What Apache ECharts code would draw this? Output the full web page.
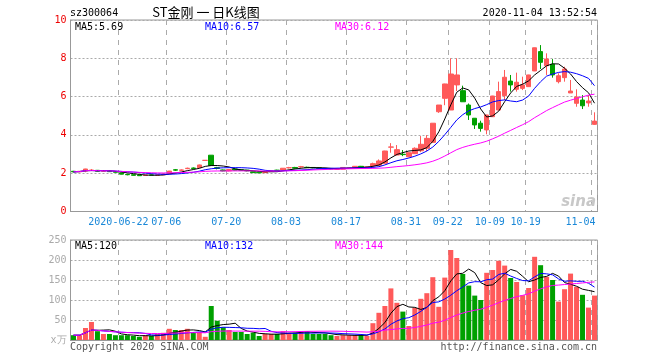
<!DOCTYPE html>
<html><head><meta charset="utf-8">
<script src="https://cdn.jsdelivr.net/npm/echarts@6/dist/echarts.min.js"></script>
<style>html,body{margin:0;padding:0;background:#fff}#c{width:660px;height:360px}</style>
</head><body><div id="c"></div>
<script>
const dates = ['2020-06-10','2020-06-11','2020-06-12','2020-06-15','2020-06-16','2020-06-17','2020-06-18','2020-06-19',
'2020-06-22','2020-06-23','2020-06-24','2020-06-29','2020-06-30','2020-07-01','2020-07-02','2020-07-03',
'2020-07-06','2020-07-07','2020-07-08','2020-07-09','2020-07-10','2020-07-13','2020-07-14','2020-07-15','2020-07-16','2020-07-17',
'2020-07-20','2020-07-21','2020-07-22','2020-07-23','2020-07-24','2020-07-27','2020-07-28','2020-07-29','2020-07-30','2020-07-31',
'2020-08-03','2020-08-04','2020-08-05','2020-08-06','2020-08-07','2020-08-10','2020-08-11','2020-08-12','2020-08-13','2020-08-14',
'2020-08-17','2020-08-18','2020-08-19','2020-08-20','2020-08-21','2020-08-24','2020-08-25','2020-08-26','2020-08-27','2020-08-28',
'2020-08-31','2020-09-01','2020-09-02','2020-09-03','2020-09-04','2020-09-07','2020-09-08',
'2020-09-22','2020-09-23','2020-09-24','2020-09-25','2020-09-28','2020-09-29','2020-09-30',
'2020-10-09','2020-10-12','2020-10-13','2020-10-14','2020-10-15','2020-10-16',
'2020-10-19','2020-10-20','2020-10-21','2020-10-22','2020-10-23','2020-10-26','2020-10-27','2020-10-28','2020-10-29','2020-10-30',
'2020-11-02','2020-11-04'];
const opens = [2.10,2.07,2.11,2.15,2.15,2.10,2.11,2.08,2.01,1.94,1.92,1.90,1.88,1.91,1.90,1.92,
1.99,2.18,2.15,2.24,2.27,2.29,2.67,2.94,2.29,2.17,
2.12,2.22,2.18,2.16,2.08,2.05,2.03,2.09,2.16,2.17,
2.28,2.30,2.33,2.31,2.30,2.28,2.25,2.24,2.20,2.21,
2.28,2.28,2.36,2.31,2.38,2.41,2.52,3.36,2.95,2.99,
2.86,3.02,3.17,3.30,3.61,5.21,5.91,
5.30,6.61,6.31,5.56,4.87,4.61,4.26,
4.95,5.30,6.05,6.81,6.38,6.43,
6.52,7.34,8.35,7.61,7.69,6.78,6.99,6.19,5.65,5.82,5.67,4.55];
const closes = [2.07,2.10,2.22,2.16,2.10,2.11,2.08,2.05,1.95,1.92,1.89,1.87,1.90,1.90,1.91,1.96,
2.11,2.16,2.17,2.26,2.25,2.43,2.67,2.40,2.25,2.12,
2.19,2.16,2.15,2.12,2.03,2.02,2.06,2.14,2.14,2.26,
2.29,2.26,2.34,2.29,2.28,2.25,2.23,2.22,2.22,2.30,
2.29,2.36,2.31,2.33,2.50,2.64,3.16,3.37,3.23,2.97,
3.07,3.30,3.51,3.82,4.61,5.56,6.66,
7.18,7.13,5.73,5.04,4.52,4.34,5.04,
6.03,6.26,7.01,6.61,6.75,6.61,
7.13,8.55,7.79,7.96,7.13,7.09,7.44,6.29,5.98,5.52,5.77,4.72];
const lows = [2.05,2.06,2.05,2.11,2.09,2.08,2.07,2.04,1.94,1.89,1.88,1.86,1.87,1.88,1.88,1.91,
1.98,2.12,2.13,2.21,2.22,2.27,2.67,2.38,2.20,2.10,
2.10,2.14,2.13,2.10,2.01,2.00,2.01,2.07,2.12,2.16,
2.25,2.24,2.29,2.27,2.26,2.23,2.21,2.20,2.19,2.20,
2.26,2.27,2.30,2.30,2.36,2.38,2.50,3.07,2.93,2.89,
2.84,3.00,3.10,3.15,3.60,5.15,5.55,
5.30,6.29,5.73,4.78,4.31,4.17,4.03,
4.94,5.29,5.82,6.26,6.26,6.34,
6.51,7.33,7.44,7.13,6.99,6.69,6.78,6.19,5.47,5.35,5.47,4.52];
const highs = [2.12,2.11,2.23,2.22,2.16,2.12,2.12,2.09,2.02,1.96,1.93,1.91,1.91,1.93,1.93,1.97,
2.12,2.22,2.20,2.29,2.30,2.45,2.67,2.94,2.33,2.19,
2.21,2.24,2.20,2.17,2.10,2.07,2.08,2.15,2.18,2.27,
2.33,2.33,2.38,2.34,2.32,2.30,2.27,2.26,2.24,2.31,
2.31,2.37,2.38,2.35,2.55,2.72,3.17,3.57,3.47,3.21,
3.08,3.35,3.94,3.99,4.61,5.56,6.67,
8.00,8.00,6.57,5.64,4.88,4.74,5.05,
6.04,6.78,7.39,7.13,7.25,7.04,
7.14,8.56,8.69,8.26,7.96,7.22,7.56,6.87,6.38,6.08,6.08,5.18];
const volumes = [12,12,30,45,22,15,15,12,12,12,10,8,12,10,15,18,
28,25,25,28,20,20,8,85,48,32,
25,20,20,15,18,10,15,15,15,22,
18,18,22,22,15,15,15,12,10,12,
12,12,13,10,42,68,85,129,93,71,
35,80,103,117,157,83,156,
225,205,165,136,111,100,168,
175,198,186,155,145,112,
130,208,187,158,150,96,127,166,133,113,81,111];
const tickDates = ['2020-06-22','2020-07-06','2020-07-20','2020-08-03','2020-08-17','2020-08-31','2020-09-22','2020-10-09','2020-10-19','2020-11-04'];
const tickLabels = ['2020-06-22','07-06','07-20','08-03','08-17','08-31','09-22','10-09','10-19','11-04'];
const priceTicks = [0, 2, 4, 6, 8, 10];
const volTicks = [0, 50, 100, 150, 200, 250];
const maPeriods = [5, 10, 30];
const maColors = ['#000000', '#0000ff', '#ff00ff'];
const priceMALegend = ['MA5:5.69', 'MA10:6.57', 'MA30:6.12'];
const volMALegend = ['MA5:120', 'MA10:132', 'MA30:144'];

const RED = '#ff5a5a', GREEN = '#00a000';
const MONO = 'DejaVu Sans Mono';
const tickIdx = tickDates.map(d => dates.indexOf(d));
function ma(arr, n) {
  return arr.map((_, i) => {
    const s = Math.max(0, i - n + 1);
    let t = 0; for (let k = s; k <= i; k++) t += arr[k];
    return +(t / (i - s + 1)).toFixed(3);
  });
}
const kData = dates.map((d, i) => [opens[i], closes[i], lows[i], highs[i]]);
const volData = volumes.map((v, i) => ({ value: v, itemStyle: { color: closes[i] >= opens[i] ? RED : GREEN } }));
const priceMA = maPeriods.map(n => ma(closes, n));
const volMA = maPeriods.map(n => ma(volumes, n));
const last = a => a[a.length - 1];

const gridBase = { left: 70.5, width: 527, show: true, borderColor: '#999', borderWidth: 1 };
const lastTick = last(tickIdx);
const xBase = (gi, showLabel) => ({
  type: 'category', gridIndex: gi, data: dates, boundaryGap: true,
  axisLine: { show: true, lineStyle: { color: '#999' } },
  axisTick: { show: false },
  axisLabel: {
    show: showLabel, interval: (i) => tickIdx.includes(i),
    formatter: (v, i) => {
      const k = tickIdx.indexOf(i);
      if (k < 0) return '';
      return (i === lastTick ? '{e|' : '{n|') + tickLabels[k] + '}';
    },
    rich: {
      n: { color: '#1a88d8', fontFamily: MONO, fontSize: 10, padding: [0, 6, 0, 0] },
      e: { color: '#1a88d8', fontFamily: MONO, fontSize: 10, padding: [0, 28, 0, 0] }
    },
    color: '#1a88d8', fontFamily: MONO, fontSize: 10, margin: 6
  },
  splitLine: { show: true, interval: (i) => tickIdx.includes(i), lineStyle: { color: '#aaa', type: [5, 5] } }
});

const series = [
  { type: 'candlestick', xAxisIndex: 0, yAxisIndex: 0, data: kData, barWidth: 5,
    itemStyle: { color: RED, color0: GREEN, borderColor: RED, borderColor0: GREEN, borderWidth: 1 }, z: 2 },
  { type: 'bar', xAxisIndex: 1, yAxisIndex: 1, data: volData, barWidth: 5, z: 2 }
];
maPeriods.forEach((n, k) => {
  series.push({ type: 'line', xAxisIndex: 0, yAxisIndex: 0, data: priceMA[k], showSymbol: false, symbol: 'none',
    lineStyle: { color: maColors[k], width: 1 }, z: 3 });
  series.push({ type: 'line', xAxisIndex: 1, yAxisIndex: 1, data: volMA[k], showSymbol: false, symbol: 'none',
    lineStyle: { color: maColors[k], width: 1 }, z: 3 });
});

const txt = (x, y, text, color, extra) => Object.assign({ type: 'text', x, y, z: 10,
  style: Object.assign({ text, fill: color, font: '10px ' + MONO, textVerticalAlign: 'middle' }, extra || {}) });

const chart = echarts.init(document.getElementById('c'), null, { renderer: 'canvas' });
chart.setOption({
  animation: false,
  backgroundColor: '#fff',
  grid: [Object.assign({ top: 20, height: 191.5 }, gridBase), Object.assign({ top: 240, height: 100 }, gridBase)],
  xAxis: [xBase(0, true), xBase(1, false)],
  yAxis: [
    { type: 'value', gridIndex: 0, min: priceTicks[0], max: last(priceTicks), interval: 2,
      axisLine: { show: true, lineStyle: { color: '#999' } }, axisTick: { show: false },
      axisLabel: { color: '#ee0000', fontFamily: MONO, fontSize: 10, margin: 4 },
      splitLine: { show: true, lineStyle: { color: '#aaa', type: [2, 2] } } },
    { type: 'value', gridIndex: 1, min: volTicks[0], max: last(volTicks), interval: 50,
      axisLine: { show: true, lineStyle: { color: '#999' } }, axisTick: { show: false },
      axisLabel: { color: '#aaa', fontFamily: MONO, fontSize: 10, margin: 4, formatter: v => v === 0 ? 'x万' : v },
      splitLine: { show: true, lineStyle: { color: '#aaa', type: [2, 2] } } }
  ],
  series,
  graphic: [
    txt(70, 13, 'sz300064', '#000'),
    { type: 'text', x: 206, y: 12, z: 10, style: { text: 'ST金刚 一 日K线图', fill: '#000', font: '13px "Noto Sans CJK SC"', textAlign: 'center', textVerticalAlign: 'middle' } },
    txt(597, 13, '2020-11-04 13:52:54', '#000', { textAlign: 'right' }),
    txt(75, 27, priceMALegend[0], maColors[0]),
    txt(205, 27, priceMALegend[1], maColors[1]),
    txt(335, 27, priceMALegend[2], maColors[2]),
    txt(75, 246, volMALegend[0], maColors[0]),
    txt(205, 246, volMALegend[1], maColors[1]),
    txt(335, 246, volMALegend[2], maColors[2]),
    txt(70, 347, 'Copyright 2020 SINA.COM', '#555'),
    txt(597, 347, 'http://finance.sina.com.cn', '#555', { textAlign: 'right' }),
    { type: 'text', x: 596, y: 202, z: 1, style: { text: 'sina', fill: '#c8c8c8', font: 'italic bold 15px "DejaVu Sans"', textAlign: 'right', textVerticalAlign: 'middle' } }
  ]
});
</script></body></html>
